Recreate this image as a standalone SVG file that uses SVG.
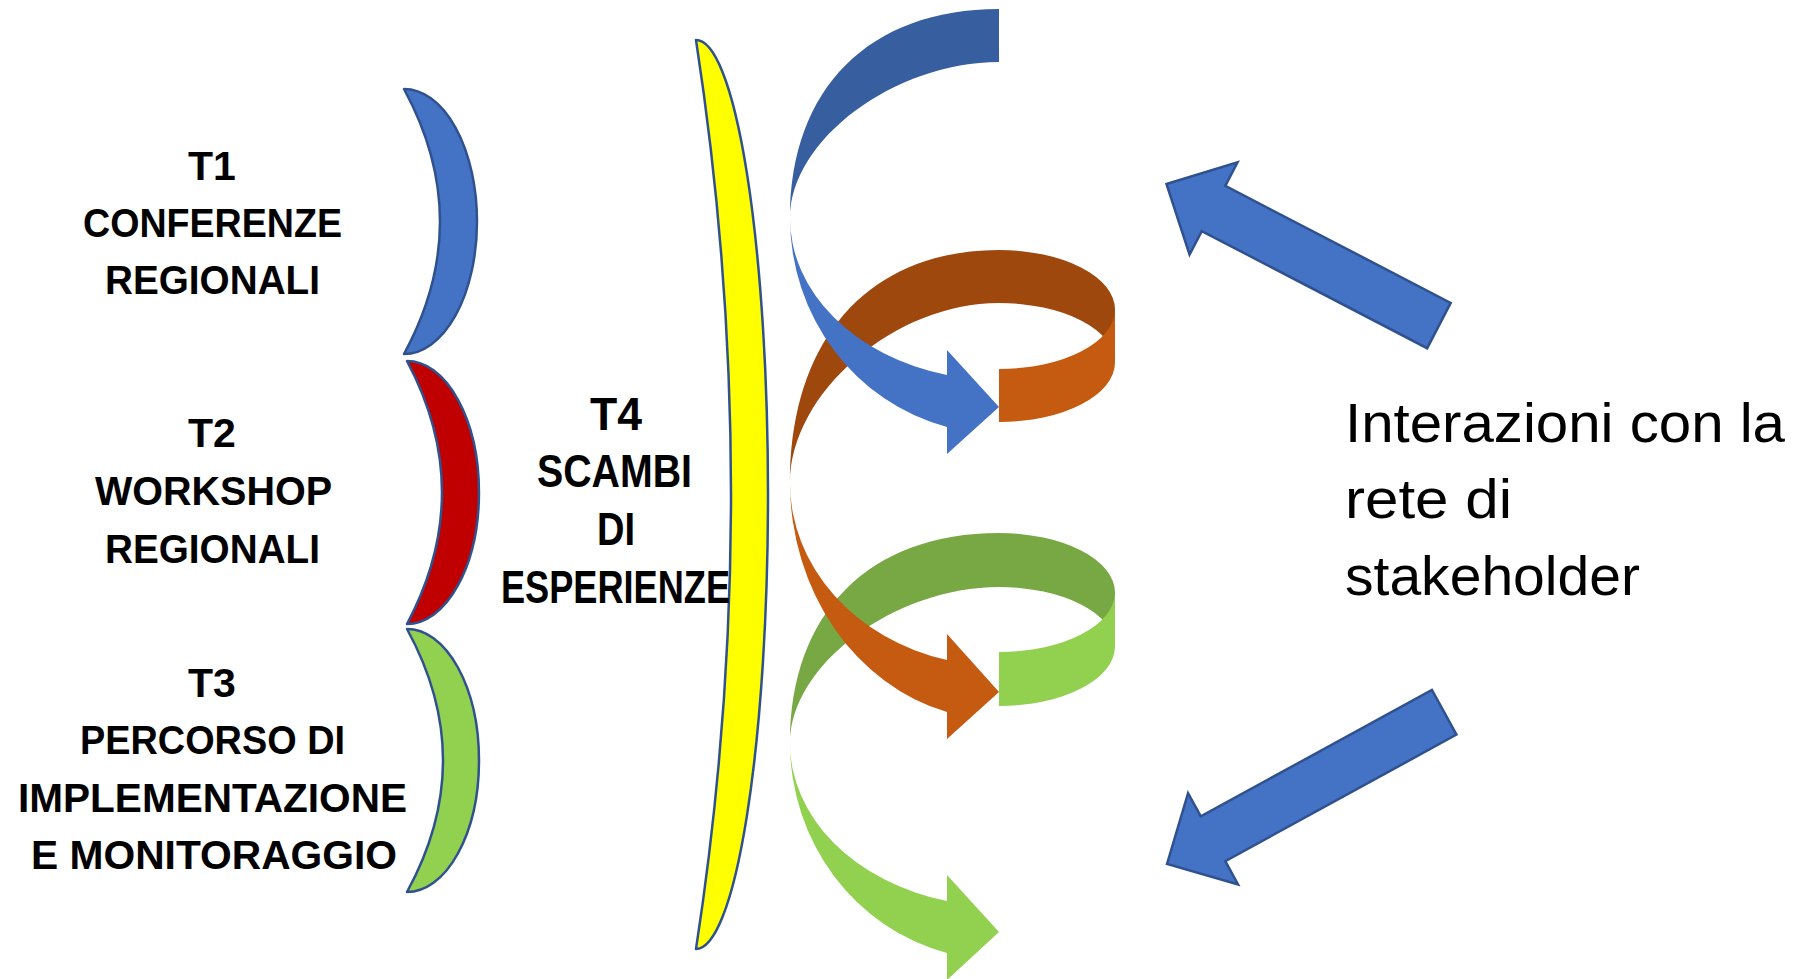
<svg xmlns="http://www.w3.org/2000/svg" width="1797" height="979" viewBox="0 0 1797 979">
  <style>
    .bold { font-family: "Liberation Sans", Arial, sans-serif; font-weight: bold; fill: #000; text-anchor: middle; }
    .lt { font-size: 41px; }
    .t4 { font-size: 46px; }
    .reg { font-family: "Liberation Sans", Arial, sans-serif; font-size: 55px; fill: #000; }
    .moon { stroke: #2F528F; stroke-width: 2.5; stroke-linejoin: round; }
    .bigarrow { fill: #4472C4; stroke: #2F528F; stroke-width: 2.5; stroke-linejoin: miter; }
  </style>
  <defs>
    <polygon id="arrowUp" points="0,0 53,-52 53,-25.5 307,-25.5 307,25.5 53,25.5 53,52"/>
    <polygon id="arrowDown" points="0,0 52.5,-52 52.5,-25.5 316,-25.5 316,25.5 52.5,25.5 52.5,52"/>
  </defs>
  <rect width="1797" height="979" fill="#FFFFFF"/>

  <g id="node-t1">
    <path class="moon" fill="#4472C4" d="M404 89 A73 132.5 0 0 1 404 354 Q476 221.5 404 89 Z"/>
    <text class="bold lt" x="212" y="180">T1</text>
    <text class="bold lt" x="212.5" y="237" textLength="259" lengthAdjust="spacingAndGlyphs">CONFERENZE</text>
    <text class="bold lt" x="212.5" y="294" textLength="215" lengthAdjust="spacingAndGlyphs">REGIONALI</text>
  </g>

  <g id="node-t2">
    <path class="moon" fill="#C00000" d="M407 361 A72 131.5 0 0 1 407 624 Q477 492.5 407 361 Z"/>
    <text class="bold lt" x="212" y="447">T2</text>
    <text class="bold lt" x="213.5" y="505" textLength="237" lengthAdjust="spacingAndGlyphs">WORKSHOP</text>
    <text class="bold lt" x="212.5" y="563" textLength="215" lengthAdjust="spacingAndGlyphs">REGIONALI</text>
  </g>

  <g id="node-t3">
    <path class="moon" fill="#92D050" d="M407 629 A72 131.5 0 0 1 407 892 Q479 760.5 407 629 Z"/>
    <text class="bold lt" x="212" y="697">T3</text>
    <text class="bold lt" x="212.5" y="754" textLength="265" lengthAdjust="spacingAndGlyphs">PERCORSO DI</text>
    <text class="bold lt" x="212.5" y="812" textLength="389" lengthAdjust="spacingAndGlyphs">IMPLEMENTAZIONE</text>
    <text class="bold lt" x="214" y="869" textLength="366" lengthAdjust="spacingAndGlyphs">E MONITORAGGIO</text>
  </g>

  <g id="node-t4">
    <path class="moon" fill="#FFFF00" d="M696 40 A72 454.5 0 0 1 696 949 Q766 494.5 696 40 Z"/>
    <text class="bold t4" x="616" y="430" textLength="52" lengthAdjust="spacingAndGlyphs">T4</text>
    <text class="bold t4" x="614.5" y="487" textLength="155" lengthAdjust="spacingAndGlyphs">SCAMBI</text>
    <text class="bold t4" x="616" y="545" textLength="38" lengthAdjust="spacingAndGlyphs">DI</text>
    <text class="bold t4" x="615.5" y="603" textLength="229" lengthAdjust="spacingAndGlyphs">ESPERIENZE</text>
  </g>

  <g id="spiral">
    <!-- blue: back (dark) part -->
    <path fill="#375E9E" d="M999 9 C869.4 9 790 88.4 790 218 C790 140 894.5 62 999 62 Z"/>
    <!-- brown: back parts -->
    <path fill="#9E480E" d="M999 250 C869.4 250 790 338.5 790 483 C790 393 894.5 303 999 303 Z"/>
    <path fill="#9E480E" d="M999 250 A116 59.5 0 0 1 1115 309.5 L1115 362.5 A116 59.5 0 0 0 999 303 Z"/>
    <!-- blue: front arrow -->
    <path fill="#4472C4" d="M790 218 A209 216 0 0 0 947 427 L947 454 L999 407 L947 350 L947 375 A209 162 0 0 1 790 218 Z"/>
    <!-- brown: front ring -->
    <path fill="#C55A11" d="M999 369 A116 59.5 0 0 0 1115 309.5 L1115 362.5 A116 59.5 0 0 1 999 422 Z"/>
    <!-- green: back parts -->
    <path fill="#77A843" d="M999 533 C869.4 533 790 612.8 790 743 C790 665 894.5 587 999 587 Z"/>
    <path fill="#77A843" d="M999 533 A116 59.5 0 0 1 1115 592.5 L1115 646.5 A116 59.5 0 0 0 999 587 Z"/>
    <!-- orange: front arrow -->
    <path fill="#C55A11" d="M790 483 A209 237 0 0 0 947 712 L947 739 L999 692 L947 634 L947 660 A209 183 0 0 1 790 483 Z"/>
    <!-- green: front ring -->
    <path fill="#92D050" d="M999 652 A116 59.5 0 0 0 1115 592.5 L1115 646.5 A116 59.5 0 0 1 999 706 Z"/>
    <!-- green: front arrow -->
    <path fill="#92D050" d="M790 743 A209 217 0 0 0 947 953 L947 980 L999 932 L947 875 L947 901 A209 163 0 0 1 790 743 Z"/>
  </g>

  <g id="connectors">
    <use href="#arrowUp" class="bigarrow" transform="translate(1166.5 184) rotate(27.46)"/>
    <use href="#arrowDown" class="bigarrow" transform="translate(1167 864) rotate(-28.7)"/>
  </g>

  <g id="node-stakeholder">
    <text class="reg" x="1345" y="442" textLength="440" lengthAdjust="spacingAndGlyphs">Interazioni con la</text>
    <text class="reg" x="1345" y="518" textLength="167" lengthAdjust="spacingAndGlyphs">rete di</text>
    <text class="reg" x="1345" y="595" textLength="295" lengthAdjust="spacingAndGlyphs">stakeholder</text>
  </g>
</svg>
